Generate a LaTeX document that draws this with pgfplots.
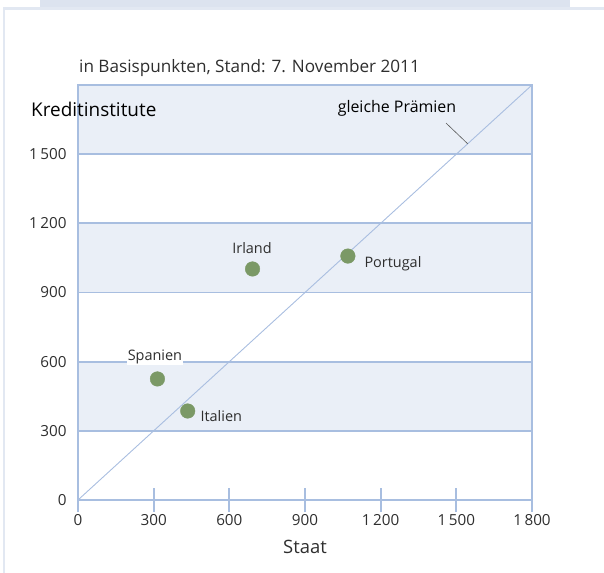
\documentclass[border=0pt]{standalone}
\usepackage{pgfplots}
\pgfplotsset{compat=1.18}
\usepackage{fontspec}
\setmainfont{Open Sans}
\definecolor{gridc}{HTML}{A8BEE0}
\definecolor{diagc}{HTML}{A9BEE0}
\definecolor{bandc}{HTML}{EAEFF7}
\definecolor{topband}{HTML}{DCE3EF}
\definecolor{framec}{HTML}{E2E8F2}
\definecolor{dotc}{HTML}{7B9966}
\definecolor{txt}{HTML}{2E2E2E}
\begin{document}
\begin{tikzpicture}[x=1bp,y=1bp]
% frame decorations
\fill[topband] (-38,492) rectangle (492,500);
\fill[framec] (-75,-73) rectangle (-73,491.5);
\fill[framec] (-75,490) rectangle (526,492.5);
\begin{axis}[
  set layers,
  at={(0,0)}, anchor=origin,
  scale only axis, width=454bp, height=415bp,
  xmin=0, xmax=1800, ymin=0, ymax=1800,
  axis line style={draw=gridc, line width=1.9bp},
  xtick={0,300,...,1800}, ytick={0,300,...,1500},
  xtick pos=bottom, ytick pos=left,
  tick align=center,
  major tick length=24bp,
  xtick style={draw=gridc, line width=1.9bp},
  ytick style={draw=none},
  ymajorgrids,
  grid style={draw=gridc, line width=1.9bp},
  /pgf/number format/assume math mode=true,
  /pgf/number format/1000 sep={\,},
  tick label style={font=\fontsize{15.3}{18}\selectfont, text=txt},
  xticklabel style={anchor=center, yshift=-8bp},
  yticklabel style={anchor=east, xshift=4bp},
  xlabel={Staat},
  xlabel style={at={(axis description cs:0.5,0)}, anchor=center, yshift=-47bp, font=\fontsize{18.5}{22}\selectfont, text=txt},
  clip=false,
]
\begin{pgfonlayer}{axis background}
\fill[bandc] (axis cs:0,300) rectangle (axis cs:1800,600);
\fill[bandc] (axis cs:0,900) rectangle (axis cs:1800,1200);
\fill[bandc] (axis cs:0,1500) rectangle (axis cs:1800,1800);
\end{pgfonlayer}
\addplot[diagc, line width=0.9bp] coordinates {(0,0) (1800,1800)};
\draw[txt!80, line width=0.6bp] (axis cs:1459,1635) -- (axis cs:1545,1545);
\node[fill=white, inner sep=1bp, text=txt, font=\fontsize{14.5}{17}\selectfont] at (axis cs:305,620) {Spanien};
\addplot[only marks, mark=*, mark size=7.3bp, dotc, mark options={draw=dotc, fill=dotc}] coordinates {
  (315,525) (435,386) (692,1002) (1070,1058)
};
\node[text=txt, font=\fontsize{14.5}{17}\selectfont] at (axis cs:690,1093) {Irland};
\node[anchor=west, text=txt, font=\fontsize{14.5}{17}\selectfont] at (axis cs:1122,1024) {Portugal};
\node[anchor=west, text=txt, font=\fontsize{14.5}{17}\selectfont] at (axis cs:472,364) {Italien};
\end{axis}
\node[anchor=west, text=txt, font=\fontsize{17.2}{20}\selectfont, inner sep=0pt] at (1,432) {in Basispunkten, Stand: 7. November 2011};
\node[anchor=west, text=black, font=\fontsize{19}{22}\selectfont, inner sep=0pt] at (-47,391) {Kreditinstitute};
\node[text=black, font=\fontsize{16}{19}\selectfont, inner sep=0pt] at (319,392) {gleiche Prämien};
\pgfresetboundingbox
\useasboundingbox (-78,-73) rectangle (526,500);
\end{tikzpicture}
\end{document}
